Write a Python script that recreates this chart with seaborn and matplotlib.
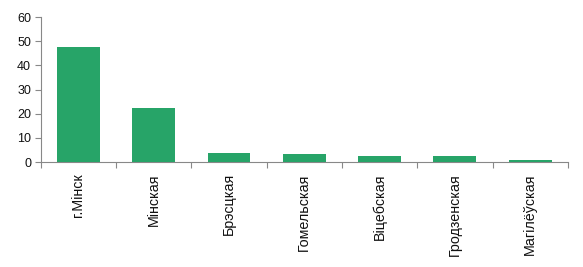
import matplotlib
matplotlib.use("Agg")
import matplotlib.pyplot as plt
import seaborn as sns
import numpy as np
import pandas as pd

categories = ["г.Мінск", "Мінская", "Брэсцкая", "Гомельская", "Віцебская", "Гродзенская", "Магілёўская"]
values = [47.5, 22.4, 3.9, 3.4, 2.7, 2.6, 0.9]
yticks = [0, 10, 20, 30, 40, 50, 60]

sns.set_theme(style="white")
plt.rcParams['font.family'] = ['Liberation Sans', 'DejaVu Sans']

df = pd.DataFrame({"region": categories, "value": values})

fig = plt.figure(figsize=(5.83, 2.67), dpi=100)
ax = fig.add_axes([0.070, 0.393, 0.904, 0.543])
sns.barplot(data=df, x="region", y="value", color="#27a468", saturation=1, width=0.57,
            linewidth=0, edgecolor="none", ax=ax, zorder=3)

ax.set_ylim(0, 60)
ax.set_yticks(yticks)
ax.set_xlim(-0.5, len(categories) - 0.5)
ax.set_xlabel("")
ax.set_ylabel("")
for s in ["top", "right"]:
    ax.spines[s].set_visible(False)
for s in ["left", "bottom"]:
    ax.spines[s].set_color("#888888")
    ax.spines[s].set_linewidth(0.8)
    ax.spines[s].set_zorder(2)

ax.tick_params(axis="y", which="major", left=True, length=4, width=0.8, color="#888888", labelsize=9, pad=3, labelcolor="#111111")
ax.tick_params(axis="x", which="major", length=0, labelsize=10.3, pad=8, labelcolor="#111111")
ax.set_xticks(np.arange(-0.5, len(categories), 1.0), minor=True)
ax.tick_params(axis="x", which="minor", bottom=True, length=4, width=0.8, color="#888888")
plt.setp(ax.get_xticklabels(), rotation=90, ha="center", va="top")

fig.savefig("out.png", dpi=100)
